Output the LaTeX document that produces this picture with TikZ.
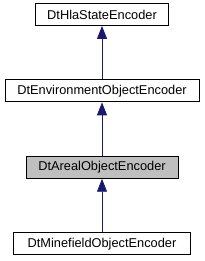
\documentclass[tikz,border=0pt]{standalone}
\usepackage{fontspec}
\setmainfont{Liberation Sans}
\usepackage{tikz}
\usetikzlibrary{arrows.meta,positioning}
\definecolor{edge}{HTML}{191970}
\definecolor{shade}{HTML}{BFBFBF}

\begin{document}
\begin{tikzpicture}[x=1pt, y=1pt, node distance=53.5pt, every node/.style={font=\fontsize{12.8}{14}\selectfont}, box/.style={draw=black,line width=0.9pt,fill=white,minimum height=22pt,inner sep=0pt}, arr/.style={-{Triangle[length=13pt,width=10pt]},line width=0.9pt,draw=edge,fill=edge}]
\useasboundingbox (0,0) rectangle (205,261);
\node[box,minimum width=133pt] (hla) at (102,246.5) {DtHlaStateEncoder};
\node[box,minimum width=194pt,below=of hla] (env) {DtEnvironmentObjectEncoder};
\node[box,minimum width=152pt,fill=shade,below=of env] (areal) {DtArealObjectEncoder};
\node[box,minimum width=177pt,below=of areal] (mine) {DtMinefieldObjectEncoder};
\draw[arr] (env)--(hla); \draw[arr] (areal)--(env); \draw[arr] (mine)--(areal);
\end{tikzpicture}
\end{document}
